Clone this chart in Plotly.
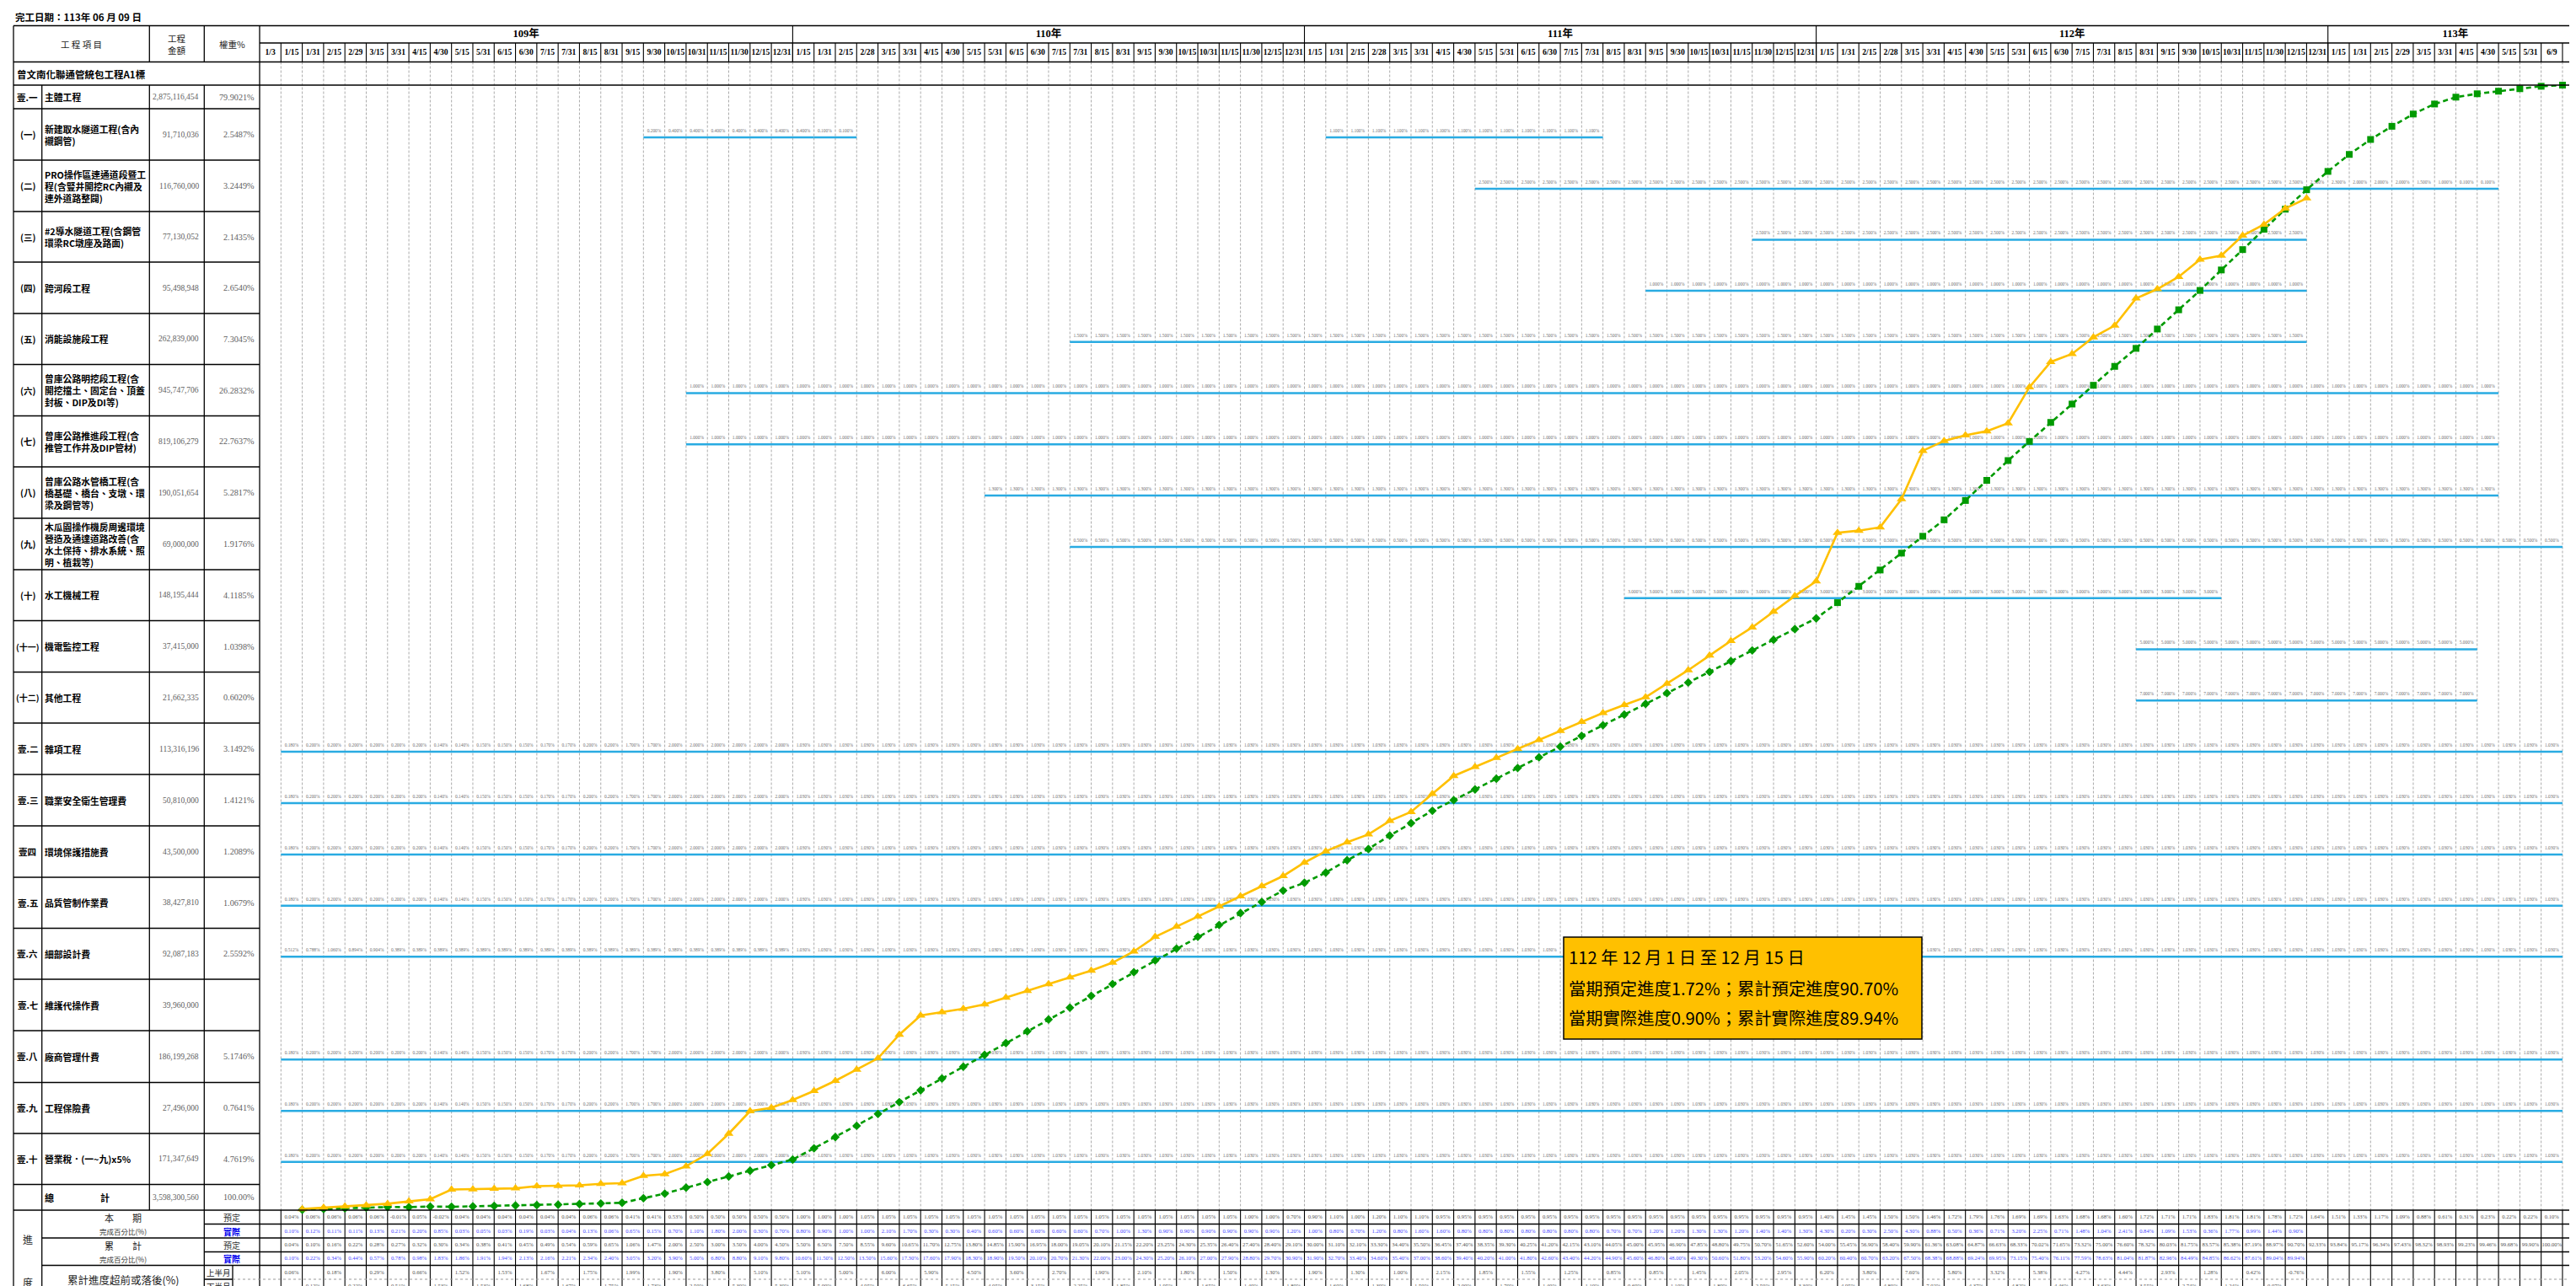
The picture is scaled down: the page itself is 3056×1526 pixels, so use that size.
import plotly.graph_objects as go

W, H = 3056, 1526
X0 = 300.0
CW = 25.296
CJK = "Noto Sans CJK TC"
SERIF = "Liberation Serif"

# ------------------------------------------------------------------ data
title_text = "完工日期：113年 06 月 09 日"
project_name = "曾文南化聯通管統包工程A1標"
years = ["109年", "110年", "111年", "112年", "113年"]
dates_109 = ["1/3", "1/15", "1/31", "2/15", "2/29", "3/15", "3/31", "4/15", "4/30", "5/15", "5/31", "6/15", "6/30",
             "7/15", "7/31", "8/15", "8/31", "9/15", "9/30", "10/15", "10/31", "11/15", "11/30", "12/15", "12/31"]
dates_110 = ["1/15", "1/31", "2/15", "2/28", "3/15", "3/31", "4/15", "4/30", "5/15", "5/31", "6/15", "6/30",
             "7/15", "7/31", "8/15", "8/31", "9/15", "9/30", "10/15", "10/31", "11/15", "11/30", "12/15", "12/31"]
dates_111 = ["1/15", "1/31", "2/15", "2/28", "3/15", "3/31", "4/15", "4/30", "5/15", "5/31", "6/15", "6/30",
             "7/15", "7/31", "8/15", "8/31", "9/15", "9/30", "10/15", "10/31", "11/15", "11/30", "12/15", "12/31"]
dates_112 = ["1/15", "1/31", "2/15", "2/28", "3/15", "3/31", "4/15", "4/30", "5/15", "5/31", "6/15", "6/30",
             "7/15", "7/31", "8/15", "8/31", "9/15", "9/30", "10/15", "10/31", "11/15", "11/30", "12/15", "12/31"]
dates_113 = ["1/15", "1/31", "2/15", "2/29", "3/15", "3/31", "4/15", "4/30", "5/15", "5/31", "6/9"]

item_codes = ["壹.一", "(一)", "(二)", "(三)", "(四)", "(五)", "(六)", "(七)", "(八)", "(九)", "(十)", "(十一)",
              "(十二)", "壹.二", "壹.三", "壹四", "壹.五", "壹.六", "壹.七", "壹.八", "壹.九", "壹.十"]
item_names = ["主體工程",
              "新建取水隧道工程(含內<br>襯鋼管)",
              "PRO操作區連通道段暨工<br>程(含豎井開挖RC內襯及<br>連外道路整闢)",
              "#2導水隧道工程(含鋼管<br>環梁RC墩座及路面)",
              "跨河段工程",
              "消能設施段工程",
              "曾庫公路明挖段工程(含<br>開挖擋土、固定台、頂蓋<br>封板、DIP及DI等)",
              "曾庫公路推進段工程(含<br>推管工作井及DIP管材)",
              "曾庫公路水管橋工程(含<br>橋基礎、橋台、支墩、環<br>梁及鋼管等)",
              "木瓜園操作機房周邊環境<br>營造及通達道路改善(含<br>水土保持、排水系統、照<br>明、植栽等)",
              "水工機械工程", "機電監控工程", "其他工程", "雜項工程", "職業安全衛生管理費", "環境保護措施費",
              "品質管制作業費", "細部設計費", "維護代操作費", "廠商管理什費", "工程保險費", "營業稅．(一~九)x5%"]
item_amounts = ["2,875,116,454", "91,710,036", "116,760,000", "77,130,052", "95,498,948", "262,839,000",
                "945,747,706", "819,106,279", "190,051,654", "69,000,000", "148,195,444", "37,415,000",
                "21,662,335", "113,316,196", "50,810,000", "43,500,000", "38,427,810", "92,087,183",
                "39,960,000", "186,199,268", "27,496,000", "171,347,649"]
item_weights = ["79.9021%", "2.5487%", "3.2449%", "2.1435%", "2.6540%", "7.3045%", "26.2832%", "22.7637%",
                "5.2817%", "1.9176%", "4.1185%", "1.0398%", "0.6020%", "3.1492%", "1.4121%", "1.2089%",
                "1.0679%", "2.5592%", "", "5.1746%", "0.7641%", "4.7619%"]
total_amount = "3,598,300,560"
total_weight = "100.00%"

# period / cumulative progress (%), one value per date column from 109/1/15 on
period_plan = [0.04, 0.06, 0.06, 0.06, 0.06, -0.01, 0.05, -0.02, 0.04, 0.04, 0.04, 0.04, 0.04, 0.04, 0.06,
               0.06, 0.41, 0.41, 0.53, 0.50, 0.50, 0.50, 0.50, 0.50,
               1.00, 1.00, 1.00, 1.05, 1.05, 1.05, 1.05, 1.05, 1.05, 1.05, 1.05, 1.05, 1.05, 1.05, 1.05, 1.05,
               1.05, 1.05, 1.05, 1.05, 1.05, 1.00, 1.00, 0.70,
               0.90, 1.10, 1.00, 1.20, 1.10, 1.10, 0.95, 0.95, 0.95, 0.95, 0.95, 0.95, 0.95, 0.95, 0.95, 0.95,
               0.95, 0.95, 0.95, 0.95, 0.95, 0.95, 0.95, 0.95,
               1.40, 1.45, 1.45, 1.50, 1.50, 1.46,
               1.72, 1.79, 1.76, 1.69, 1.69, 1.63, 1.68, 1.68, 1.60, 1.72, 1.71, 1.71, 1.83, 1.81, 1.81, 1.78,
               1.72, 1.64, 1.51, 1.33, 1.17, 1.09, 0.88, 0.61, 0.31, 0.23, 0.22, 0.22, 0.10]
cum_plan = [0.04, 0.10, 0.16, 0.22, 0.28, 0.27, 0.32, 0.30, 0.34, 0.38, 0.41, 0.45, 0.49, 0.54, 0.59,
            0.65, 1.06, 1.47, 2.00, 2.50, 3.00, 3.50, 4.00, 4.50,
            5.50, 6.50, 7.50, 8.55, 9.60, 10.65, 11.70, 12.75, 13.80, 14.85, 15.90, 16.95, 18.00, 19.05,
            20.10, 21.15, 22.20, 23.25, 24.30, 25.35, 26.40, 27.40, 28.40, 29.10,
            30.00, 31.10, 32.10, 33.30, 34.40, 35.50, 36.45, 37.40, 38.35, 39.30, 40.25, 41.20, 42.15, 43.10,
            44.05, 45.00, 45.95, 46.90, 47.85, 48.80, 49.75, 50.70, 51.65, 52.60,
            54.00, 55.45, 56.90, 58.40, 59.90, 61.36,
            63.08, 64.87, 66.63, 68.33, 70.02, 71.65, 73.32, 75.00, 76.60, 78.32, 80.03, 81.75, 83.57, 85.38,
            87.19, 88.97, 90.70, 92.33, 93.84, 95.17, 96.34, 97.43, 98.32, 98.93, 99.23, 99.46, 99.68, 99.90,
            100.00]
period_actual = [0.10, 0.12, 0.11, 0.11, 0.13, 0.21, 0.20, 0.85, 0.03, 0.05, 0.03, 0.19, 0.03, 0.04, 0.13,
                 0.06, 0.65, 0.15, 0.70, 1.10, 1.80, 2.00, 0.30, 0.70,
                 0.80, 0.90, 1.00, 1.00, 2.10, 1.70, 0.30, 0.30, 0.40, 0.60, 0.60, 0.60, 0.60, 0.60, 0.70, 1.00,
                 1.30, 0.90, 0.90, 0.90, 0.90, 0.90, 0.90, 1.20,
                 1.00, 0.80, 0.70, 1.20, 0.80, 1.60, 1.60, 0.80, 0.80, 0.80, 0.80, 0.80, 0.80, 0.80, 0.70, 0.70,
                 1.20, 1.20, 1.30, 1.30, 1.20, 1.40, 1.40, 1.30,
                 4.30, 0.20, 0.30, 2.50, 4.30, 0.88,
                 0.50, 0.36, 0.71, 3.20, 2.25, 0.71, 1.48, 1.04, 2.41, 0.84, 1.09, 1.53, 0.36, 1.77, 0.99, 1.44,
                 0.90]
cum_actual = [0.10, 0.22, 0.34, 0.44, 0.57, 0.78, 0.98, 1.83, 1.86, 1.91, 1.94, 2.13, 2.16, 2.21, 2.34,
              2.40, 3.05, 3.20, 3.90, 5.00, 6.80, 8.80, 9.10, 9.80,
              10.60, 11.50, 12.50, 13.50, 15.60, 17.30, 17.60, 17.90, 18.30, 18.90, 19.50, 20.10, 20.70, 21.30,
              22.00, 23.00, 24.30, 25.20, 26.10, 27.00, 27.90, 28.80, 29.70, 30.90,
              31.90, 32.70, 33.40, 34.60, 35.40, 37.00, 38.60, 39.40, 40.20, 41.00, 41.80, 42.60, 43.40, 44.20,
              44.90, 45.60, 46.80, 48.00, 49.30, 50.60, 51.80, 53.20, 54.60, 55.90,
              60.20, 60.40, 60.70, 63.20, 67.50, 68.38,
              68.88, 69.24, 69.95, 73.15, 75.40, 76.11, 77.59, 78.63, 81.04, 81.87, 82.96, 84.49, 84.85, 86.62,
              87.61, 89.04, 89.94]

# gantt bars: (row index, first column, label values %)
misc_row = [0.180, 0.200, 0.200, 0.200, 0.200, 0.200, 0.200, 0.140, 0.140, 0.150, 0.150, 0.150, 0.170, 0.170,
            0.200, 0.200, 1.700, 1.700, 2.000, 2.000, 2.000, 2.000, 2.000, 2.000,
            1.030, 1.030, 1.030, 1.030, 1.030, 1.030, 1.030, 1.030, 1.030, 1.030, 1.030, 1.030, 1.030, 1.030,
            1.030, 1.030, 1.030, 1.030, 1.030, 1.030, 1.030, 1.030, 1.030, 1.030, 1.030, 1.030, 1.030, 1.030,
            1.030, 1.030, 1.030, 1.030, 1.030, 1.030, 1.030, 1.030, 1.030, 1.030, 1.030, 1.030, 1.030, 1.030,
            1.030, 1.030, 1.030, 1.030, 1.030, 1.030, 1.030, 1.030, 1.030, 1.030, 1.030, 1.030, 1.030, 1.030,
            1.030, 1.030, 1.030, 1.030, 1.030, 1.030, 1.030, 1.030, 1.030, 1.030, 1.030, 1.030, 1.030, 1.030,
            1.030, 1.030, 1.030, 1.030, 1.030, 1.030, 1.030, 1.030, 1.030, 1.030, 1.030, 1.030, 1.030]
design_row = [0.512, 0.788, 1.060, 0.894, 0.904, 0.389, 0.389, 0.389, 0.389, 0.389, 0.389, 0.389, 0.389,
              0.389, 0.389, 0.389, 0.389, 0.389, 0.389, 0.389, 0.389, 0.389, 0.389, 0.389,
              1.030, 1.030, 1.030, 1.030, 1.030, 1.030, 1.030, 1.030, 1.030, 1.030, 1.030, 1.030, 1.030, 1.030,
              1.030, 1.030, 1.030, 1.030, 1.030, 1.030, 1.030, 1.030, 1.030, 1.030, 1.030, 1.030, 1.030, 1.030,
              1.030, 1.030, 1.030, 1.030, 1.030, 1.030, 1.030, 1.030, 1.030, 1.030, 1.030, 1.030, 1.030, 1.030,
              1.030, 1.030, 1.030, 1.030, 1.030, 1.030, 1.030, 1.030, 1.030, 1.030, 1.030, 1.030, 1.030, 1.030,
              1.030, 1.030, 1.030, 1.030, 1.030, 1.030, 1.030, 1.030, 1.030, 1.030, 1.030, 1.030, 1.030, 1.030,
              1.030, 1.030, 1.030, 1.030, 1.030, 1.030, 1.030, 1.030, 1.030, 1.030, 1.030, 1.030, 1.030]
row1a_vals = [0.200, 0.400, 0.400, 0.400, 0.400, 0.400, 0.400, 0.400]
row1b_vals = [0.100, 0.100]
row1c_vals = [1.100, 1.100, 1.100, 1.100, 1.100, 1.100, 1.100, 1.100, 1.100, 1.100, 1.100, 1.100, 1.100]
row2_vals = [2.500, 2.500, 2.500, 2.500, 2.500, 2.500, 2.500, 2.500, 2.500, 2.500, 2.500, 2.500, 2.500,
             2.500, 2.500, 2.500, 2.500, 2.500, 2.500, 2.500, 2.500, 2.500, 2.500, 2.500, 2.500, 2.500,
             2.500, 2.500, 2.500, 2.500, 2.500, 2.500, 2.500, 2.500, 2.500, 2.500, 2.500, 2.500, 2.500,
             2.500, 2.300, 2.000, 2.000, 2.000, 1.500, 1.000, 0.100, 0.100]
row3_vals = [2.500, 2.500, 2.500, 2.500, 2.500, 2.500, 2.500, 2.500, 2.500, 2.500, 2.500, 2.500, 2.500,
             2.500, 2.500, 2.500, 2.500, 2.500, 2.500, 2.500, 2.500, 2.500, 2.500, 2.500, 2.500, 2.500]
row4_vals = [1.000, 1.000, 1.000, 1.000, 1.000, 1.000, 1.000, 1.000, 1.000, 1.000, 1.000, 1.000, 1.000,
             1.000, 1.000, 1.000, 1.000, 1.000, 1.000, 1.000, 1.000, 1.000, 1.000, 1.000, 1.000, 1.000,
             1.000, 1.000, 1.000, 1.000, 1.000]
row5_vals = [1.500, 1.500, 1.500, 1.500, 1.500, 1.500, 1.500, 1.500, 1.500, 1.500, 1.500, 1.500, 1.500,
             1.500, 1.500, 1.500, 1.500, 1.500, 1.500, 1.500, 1.500, 1.500, 1.500, 1.500, 1.500, 1.500,
             1.500, 1.500, 1.500, 1.500, 1.500, 1.500, 1.500, 1.500, 1.500, 1.500, 1.500, 1.500, 1.500,
             1.500, 1.500, 1.500, 1.500, 1.500, 1.500, 1.500, 1.500, 1.500, 1.500, 1.500, 1.500, 1.500,
             1.500, 1.500, 1.500, 1.500, 1.500, 1.500]
row6_vals = [1.000, 1.000, 1.000, 1.000, 1.000, 1.000, 1.000, 1.000, 1.000, 1.000, 1.000, 1.000, 1.000,
             1.000, 1.000, 1.000, 1.000, 1.000, 1.000, 1.000, 1.000, 1.000, 1.000, 1.000, 1.000, 1.000,
             1.000, 1.000, 1.000, 1.000, 1.000, 1.000, 1.000, 1.000, 1.000, 1.000, 1.000, 1.000, 1.000,
             1.000, 1.000, 1.000, 1.000, 1.000, 1.000, 1.000, 1.000, 1.000, 1.000, 1.000, 1.000, 1.000,
             1.000, 1.000, 1.000, 1.000, 1.000, 1.000, 1.000, 1.000, 1.000, 1.000, 1.000, 1.000, 1.000,
             1.000, 1.000, 1.000, 1.000, 1.000, 1.000, 1.000, 1.000, 1.000, 1.000, 1.000, 1.000, 1.000,
             1.000, 1.000, 1.000, 1.000, 1.000, 1.000, 1.000]
row7_vals = list(row6_vals)
row8_vals = [1.300, 1.300, 1.300, 1.300, 1.300, 1.300, 1.300, 1.300, 1.300, 1.300, 1.300, 1.300, 1.300,
             1.300, 1.300, 1.300, 1.300, 1.300, 1.300, 1.300, 1.300, 1.300, 1.300, 1.300, 1.300, 1.300,
             1.300, 1.300, 1.300, 1.300, 1.300, 1.300, 1.300, 1.300, 1.300, 1.300, 1.300, 1.300, 1.300,
             1.300, 1.300, 1.300, 1.300, 1.300, 1.300, 1.300, 1.300, 1.300, 1.300, 1.300, 1.300, 1.300,
             1.300, 1.300, 1.300, 1.300, 1.300, 1.300, 1.300, 1.300, 1.300, 1.300, 1.300, 1.300, 1.300,
             1.300, 1.300, 1.300, 1.300, 1.300, 1.300]
row9_vals = [0.500, 0.500, 0.500, 0.500, 0.500, 0.500, 0.500, 0.500, 0.500, 0.500, 0.500, 0.500, 0.500,
             0.500, 0.500, 0.500, 0.500, 0.500, 0.500, 0.500, 0.500, 0.500, 0.500, 0.500, 0.500, 0.500,
             0.500, 0.500, 0.500, 0.500, 0.500, 0.500, 0.500, 0.500, 0.500, 0.500, 0.500, 0.500, 0.500,
             0.500, 0.500, 0.500, 0.500, 0.500, 0.500, 0.500, 0.500, 0.500, 0.500, 0.500, 0.500, 0.500,
             0.500, 0.500, 0.500, 0.500, 0.500, 0.500, 0.500, 0.500, 0.500, 0.500, 0.500, 0.500, 0.500,
             0.500, 0.500, 0.500, 0.500, 0.500]
row10_vals = [3.000, 3.000, 3.000, 3.000, 3.000, 3.000, 3.000, 3.000, 3.000, 3.000, 3.000, 3.000, 3.000,
              3.000, 3.000, 3.000, 3.000, 3.000, 3.000, 3.000, 3.000, 3.000, 3.000, 3.000, 3.000, 3.000,
              3.000, 3.000]
row11_vals = [5.000, 5.000, 5.000, 5.000, 5.000, 5.000, 5.000, 5.000, 5.000, 5.000, 5.000, 5.000, 5.000,
              5.000, 5.000, 5.000]
row12_vals = [7.000, 7.000, 7.000, 7.000, 7.000, 7.000, 7.000, 7.000, 7.000, 7.000, 7.000, 7.000, 7.000,
              7.000, 7.000, 7.000]
gantt = [(1, 18, row1a_vals), (1, 26, row1b_vals), (1, 50, row1c_vals), (2, 57, row2_vals),
         (3, 70, row3_vals), (4, 65, row4_vals), (5, 38, row5_vals), (6, 20, row6_vals), (7, 20, row7_vals),
         (8, 34, row8_vals), (9, 38, row9_vals), (10, 64, row10_vals), (11, 88, row11_vals),
         (12, 88, row12_vals),
         (13, 1, misc_row), (14, 1, misc_row), (15, 1, misc_row), (16, 1, misc_row), (17, 1, design_row),
         (19, 1, misc_row), (20, 1, misc_row), (21, 1, misc_row)]

callout_lines = ["112 年 12 月 1 日 至 12 月 15 日",
                 "當期預定進度1.72%；累計預定進度90.70%",
                 "當期實際進度0.90%；累計實際進度89.94%"]

# ------------------------------------------------------------------ layout geometry (px)
TOP, YR, DT, PR = 22.5, 43.0, 65.5, 93.0
row_edges = [93, 121, 182, 243, 303, 364, 424.5, 485.5, 546, 607, 668, 728.5, 789.5, 850, 911, 972, 1033,
             1093.5, 1154, 1215, 1276.5, 1337, 1397.5]
TOT_B = 1428.0
bot_edges = [1428, 1444.5, 1461, 1477.5, 1493.5, 1510, 1526]
CX = [8, 41.7, 169.3, 234.3, 300]

all_dates = dates_109 + dates_110 + dates_111 + dates_112 + dates_113
NCOL = len(all_dates)
year_spans = [len(dates_109), len(dates_110), len(dates_111), len(dates_112), len(dates_113)]

fig = go.Figure()


def lines_trace(xs, ys, axis_x, color="black", width=1.2, dash=None, axis_y="y"):
    fig.add_trace(go.Scatter(x=xs, y=ys, mode="lines", xaxis=axis_x, yaxis=axis_y, hoverinfo="skip",
                             line=dict(color=color, width=width, dash=dash), showlegend=False))


# dashed grid in chart area (column units)
gx, gy = [], []
for j in range(1, NCOL + 1):
    gx += [j, j, None]
    gy += [DT, TOT_B, None]
lines_trace(gx, gy, "x", color="#ababab", width=1, dash="3px,2px")

# header column separators & bottom table verticals
hx, hy = [], []
for j in range(1, NCOL + 1):
    hx += [j, j, None]
    hy += [YR, DT, None]
    hx += [j, j, None]
    hy += [TOT_B, H, None]
acc = 0
for n in year_spans[:-1]:
    acc += n
    hx += [acc, acc, None]
    hy += [TOP, DT, None]
lines_trace(hx, hy, "x", color="black", width=1.1)

# left table lines (px units)
lx, ly = [], []
for yv in [TOP, DT, PR, TOT_B] + bot_edges[1:5]:
    x_start = CX[0] if yv in (TOP, DT, PR, TOT_B) else (CX[3] if yv in (1444.5, 1477.5) else CX[1])
    lx += [x_start, W, None]
    ly += [yv, yv, None]
lx += [CX[0], W, None]
ly += [H - 0.6, H - 0.6, None]
lx += [X0, W, None]
ly += [YR, YR, None]
for yv in row_edges[1:]:
    lx += [CX[0], X0, None]
    ly += [yv, yv, None]
lx += [CX[3], 268, None]
ly += [1510, 1510, None]
for xv, y0, y1 in [(CX[0], TOP, H), (CX[1], PR, H), (CX[2], TOP, DT), (CX[2], PR, TOT_B), (CX[3], TOP, DT),
                   (CX[3], PR, H), (X0, TOP, H), (268, 1493.5, H)]:
    lx += [xv, xv, None]
    ly += [y0, y1, None]
lines_trace(lx, ly, "x3", color="black", width=1.3)
lines_trace([268, W], [1510, 1510], "x3", color="#9a9a9a", width=1, dash="dot")


# ------------------------------------------------------------------ texts (left table)
def ann(x, y, text, size=11, color="black", family=CJK, xanchor="center", align="center"):
    fig.add_annotation(x=x, y=y, xref="x3", yref="y", text=text, showarrow=False, xanchor=xanchor,
                       yanchor="middle", align=align, font=dict(size=size, color=color, family=family))


ann(8, 12, "<b>" + title_text + "</b>", size=11.5, xanchor="left")
ann(88.5, 44, "工 程 項 目", size=10.5, color="#222")
ann(201.8, 44, "工程<br>金額", size=10.5, color="#222")
ann(267, 44, "權重%", size=10.5, color="#222")
ann(10, 79.5, "<b>" + project_name + "</b>", size=11.5, xanchor="left")
for i, code in enumerate(item_codes):
    yc = (row_edges[i] + row_edges[i + 1]) / 2
    ann((CX[0] + CX[1]) / 2, yc, "<b>" + code + "</b>", size=10.5 if len(code) < 4 else 10)
    ann(CX[1] + 1, yc, "<b>" + item_names[i] + "</b>", size=10.8, xanchor="left", align="left")
    ann(CX[3] - 4, yc, item_amounts[i], size=9.5, color="#606060", family=SERIF, xanchor="right")
    ann(X0 - 4, yc, item_weights[i], size=10.2, color="#606060", family=SERIF, xanchor="right")
ytot = (row_edges[-1] + TOT_B) / 2
ann(CX[1] + 1, ytot, "<b>總　　　　　計</b>", size=11, xanchor="left", align="left")
ann(CX[3] - 4, ytot, total_amount, size=9.5, color="#606060", family=SERIF, xanchor="right")
ann(X0 - 4, ytot, total_weight, size=10.2, color="#606060", family=SERIF, xanchor="right")

ann(24.5, 1462, "進", size=12, color="#222")
ann(24.5, 1513, "度", size=12, color="#222")
ann(138, 1437, "本　　期", size=11, color="#222")
ann(138, 1453, "完成百分比(%)", size=8.5, color="#333")
ann(138, 1469.5, "累　　計", size=11, color="#222")
ann(138, 1486, "完成百分比(%)", size=8.5, color="#333")
ann(138, 1510, "累計進度超前或落後(%)", size=12.5, color="#222")
for yv, lab in [(1436.5, "預定"), (1469.5, "預定")]:
    ann(267, yv, lab, size=10, color="#333")
for yv, lab in [(1453, "<b>實際</b>"), (1485.5, "<b>實際</b>")]:
    ann(267, yv, lab, size=10, color="#0000ee")
ann(251, 1502, "上半月", size=9.5, color="#222")
ann(251, 1518, "下半月", size=9.5, color="#222")

# ------------------------------------------------------------------ header texts (column units)
acc = 0
yx, yt = [], []
for n, yname in zip(year_spans, years):
    span_end = acc + n if yname != years[-1] else (W - X0) / CW
    yx.append((acc + span_end) / 2)
    yt.append("<b>" + yname + "</b>")
    acc += n
fig.add_trace(go.Scatter(x=yx, y=[32.8] * len(yx), text=yt, mode="text", xaxis="x", yaxis="y",
                         textfont=dict(size=12.5, family=SERIF + ", " + CJK, color="black"), hoverinfo="skip"))
fig.add_trace(go.Scatter(x=[j + 0.5 for j in range(NCOL)], y=[54.5] * NCOL,
                         text=["<b>" + d + "</b>" for d in all_dates], mode="text", xaxis="x", yaxis="y",
                         textfont=dict(size=9.6, family=SERIF, color="black"), hoverinfo="skip"))

# ------------------------------------------------------------------ gantt bars
for r, c0, vals in gantt:
    yc = (row_edges[r] + row_edges[r + 1]) / 2
    fig.add_trace(go.Scatter(x=[c0, c0 + len(vals)], y=[yc + 3.5, yc + 3.5], mode="lines", xaxis="x", yaxis="y",
                             line=dict(color="#29abe2", width=2.6), hoverinfo="skip"))
    fig.add_trace(go.Scatter(x=[c0 + j + 0.5 for j in range(len(vals))], y=[yc - 4] * len(vals),
                             text=["%.3f%%" % v for v in vals], mode="text", xaxis="x", yaxis="y",
                             textfont=dict(size=5.4, family=SERIF, color="#707070"), hoverinfo="skip"))


# ------------------------------------------------------------------ bottom table values
def row_text(vals, yv, color):
    fig.add_trace(go.Scatter(x=[j + 1.5 for j in range(len(vals))], y=[yv] * len(vals),
                             text=["%.2f%%" % v for v in vals], mode="text", xaxis="x", yaxis="y",
                             textfont=dict(size=6.6, family=SERIF, color=color), hoverinfo="skip"))


row_text(period_plan, 1436.5, "#555555")
row_text(period_actual, 1453, "#4a4aff")
row_text(cum_plan, 1469.5, "#555555")
row_text(cum_actual, 1485.5, "#4a4aff")
dx_u, dt_u, dx_l, dt_l = [], [], [], []
for j in range(len(cum_actual)):
    col = j + 1
    txt = "%.2f%%" % (cum_actual[j] - cum_plan[j])
    if col % 2 == 1:
        dx_u.append(col + 0.5)
        dt_u.append(txt)
    else:
        dx_l.append(col + 0.5)
        dt_l.append(txt)
fig.add_trace(go.Scatter(x=dx_u, y=[1502] * len(dx_u), text=dt_u, mode="text", xaxis="x", yaxis="y",
                         textfont=dict(size=6.6, family=SERIF, color="#555555"), hoverinfo="skip"))
fig.add_trace(go.Scatter(x=dx_l, y=[1518] * len(dx_l), text=dt_l, mode="text", xaxis="x", yaxis="y",
                         textfont=dict(size=6.6, family=SERIF, color="#555555"), hoverinfo="skip"))

# ------------------------------------------------------------------ S curves
plan_x = [j + 2 for j in range(len(cum_plan))]
plan_symbols = ["diamond" if c < len(dates_109) + len(dates_110) + len(dates_111) else "square"
                for c in range(1, len(cum_plan) + 1)]
fig.add_trace(go.Scatter(x=plan_x, y=cum_plan, mode="lines+markers",
                         xaxis="x", yaxis="y2", cliponaxis=False, name="預定",
                         line=dict(color="#009a00", width=2.6, dash="6px,4px"),
                         marker=dict(symbol=plan_symbols, size=8, color="#009a00")))
fig.add_trace(go.Scatter(x=[j + 2 for j in range(len(cum_actual))], y=cum_actual, mode="lines+markers",
                         xaxis="x", yaxis="y2", cliponaxis=False, name="實際",
                         line=dict(color="#ffc000", width=2.6),
                         marker=dict(symbol="triangle-up", size=10, color="#ffc000")))

# ------------------------------------------------------------------ callout
fig.add_shape(type="rect", xref="x3", yref="y", x0=1847, x1=2272, y0=1104, y1=1225,
              fillcolor="#ffc000", line=dict(color="black", width=1.5), layer="above")
for i, t in enumerate(callout_lines):
    fig.add_annotation(x=1851, y=[1127, 1164, 1199][i], xref="x3", yref="y", text=t, showarrow=False,
                       xanchor="left", yanchor="middle", font=dict(size=20.3, family=CJK, color="black"))

fig.update_layout(
    width=W, height=H, margin=dict(l=0, r=0, t=0, b=0), paper_bgcolor="white",
    plot_bgcolor="rgba(0,0,0,0)", showlegend=False,
    xaxis=dict(domain=[X0 / W, 1], range=[0, (W - X0) / CW], visible=False, fixedrange=True),
    yaxis=dict(domain=[0, 1], range=[H, 0], visible=False, fixedrange=True),
    xaxis3=dict(domain=[0, 1], range=[0, W], visible=False, anchor="y", fixedrange=True),
    yaxis2=dict(domain=[1 - TOT_B / H, 1 - PR / H], range=[0, 100], visible=False, anchor="x", fixedrange=True),
)
fig.write_html("out.html")
